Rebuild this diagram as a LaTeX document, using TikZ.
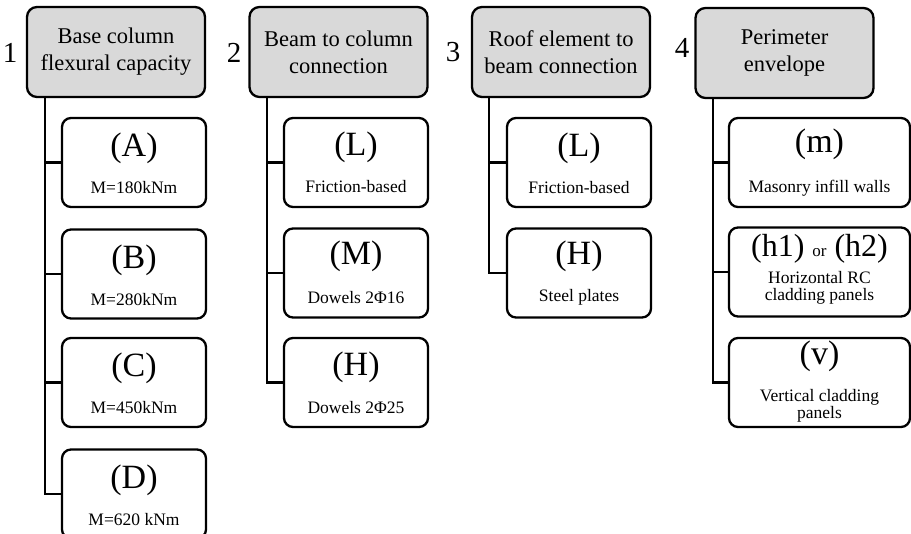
\documentclass[tikz,border=0pt]{standalone}
\usepackage{fontspec}
\setmainfont{Liberation Serif}
\begin{document}
\begin{tikzpicture}[x=1pt,y=-1pt,
  headbox/.style={draw, line width=2.3pt, rounded corners=10pt, fill=headgray,
    minimum width=178pt, minimum height=90pt, align=center, inner sep=0pt,
    font=\fontsize{22.5}{27}\selectfont},
  itembox/.style={draw, line width=2.3pt, rounded corners=9pt, fill=white,
    minimum width=144pt, minimum height=89pt, inner sep=0pt},
  widebox/.style={itembox, minimum width=181pt},
  numlab/.style={inner sep=0pt, font=\fontsize{29}{30}\selectfont},
  bigt/.style={inner sep=0pt, font=\fontsize{34}{36}\selectfont},
  smallt/.style={inner sep=0pt, align=center, font=\fontsize{17.5}{17}\selectfont},
  link/.style={line width=2.1pt}]
\definecolor{headgray}{HTML}{D9D9D9}
\clip (0,0) rectangle (911,534);
\useasboundingbox (0,0) rectangle (911,534);

% Column 1
\node[numlab] (n1) at (10,53) {1};
\node[headbox] (H1) at (116,52) {Base column\\flexural capacity};
\node[itembox] (A) at (134,162.5) {};
\node[itembox] (B) at (134,274) {};
\node[itembox] (C) at (134,382.5) {};
\node[itembox] (D) at (134,494) {};
\node[bigt] (At) at (134,148) {(A)};
\node[smallt] (As) at (134,188) {M=180kNm};
\node[bigt] (Bt) at (134,260) {(B)};
\node[smallt] (Bs) at (134,300) {M=280kNm};
\node[bigt] (Ct) at (134,368) {(C)};
\node[smallt] (Cs) at (134,408) {M=450kNm};
\node[bigt] (Dt) at (134,480) {(D)};
\node[smallt] (Ds) at (134,520) {M=620 kNm};
\foreach \b in {A,B,C,D}
  \draw[link] ([xshift=19pt]H1.south west) |- (\b.west);

% Column 2
\node[numlab] (n2) at (234,53) {2};
\node[headbox] (H2) at (338.5,52) {Beam to column\\connection};
\node[itembox] (L2) at (356,162.5) {};
\node[itembox] (M2) at (356,273) {};
\node[itembox] (H2b) at (356,382.5) {};
\node[bigt] (L2t) at (356,147) {(L)};
\node[smallt] (L2s) at (356,187) {Friction-based};
\node[bigt] (M2t) at (356,256) {(M)};
\node[smallt] (M2s) at (356,298) {Dowels 2Φ16};
\node[bigt] (H2t) at (356,367) {(H)};
\node[smallt] (H2s) at (356,408) {Dowels 2Φ25};
\foreach \b in {L2,M2,H2b}
  \draw[link] ([xshift=19pt]H2.south west) |- (\b.west);

% Column 3
\node[numlab] (n3) at (453,52) {3};
\node[headbox] (H3) at (561,52) {Roof element to\\beam connection};
\node[itembox] (L3) at (579,162.5) {};
\node[itembox] (H3b) at (579,273) {};
\node[bigt] (L3t) at (579,148) {(L)};
\node[smallt] (L3s) at (579,188) {Friction-based};
\node[bigt] (H3t) at (579,256) {(H)};
\node[smallt] (H3s) at (579,297) {Steel plates};
\foreach \b in {L3,H3b}
  \draw[link] ([xshift=18pt]H3.south west) |- (\b.west);

% Column 4
\node[numlab] (n4) at (682,48) {4};
\node[headbox] (H4) at (784.5,53) {Perimeter\\envelope};
\node[widebox] (m4) at (819.5,162.5) {};
\node[widebox] (h4) at (819.5,272) {};
\node[widebox] (v4) at (819.5,382.5) {};
\node[bigt] (m4t) at (819.5,144) {(m)};
\node[smallt] (m4s) at (819.5,188) {Masonry infill walls};
\node[inner sep=0pt] (h4t) at (819.5,249) {\fontsize{32}{34}\selectfont(h1) {\fontsize{17}{17}\selectfont or} (h2)};
\node[smallt] (h4s) at (819.5,288) {Horizontal RC\\cladding panels};
\node[bigt] (v4t) at (819.5,356) {(v)};
\node[smallt] (v4s) at (819.5,406) {Vertical cladding\\panels};
\foreach \b in {m4,h4,v4}
  \draw[link] ([xshift=19pt]H4.south west) |- (\b.west);
\end{tikzpicture}
\end{document}
